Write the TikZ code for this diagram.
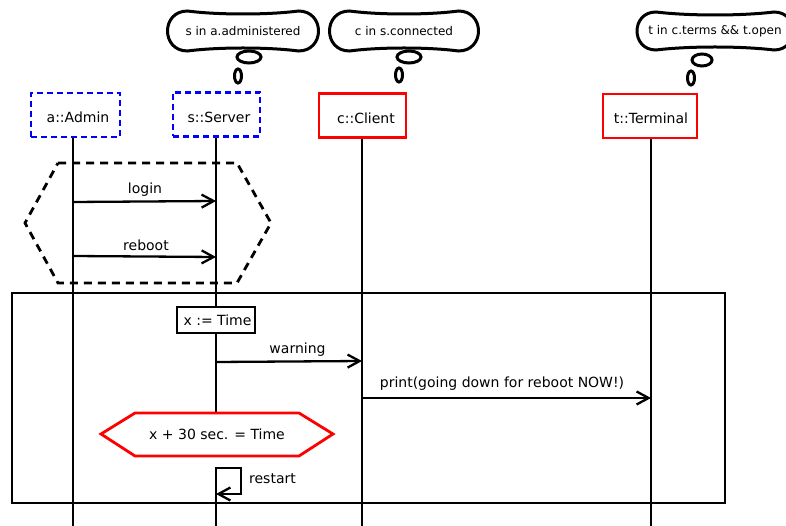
\documentclass[tikz,border=0pt]{standalone}
\usepackage{fontspec}
\setmainfont{DejaVu Sans}
\usetikzlibrary{arrows.meta,calc}

% thought cloud around a named node: #1 node, #2 half width, #3 half height
\newcommand\thoughtcloud[3]{%
  \draw[cloudline]
    ($(#1)+({-(#2)+(#3)},{-(#3)})$)
    .. controls ($(#1)+({-(#2)/3},{-(#3)+4})$) and ($(#1)+({(#2)/3},{-(#3)+4})$) .. ($(#1)+({(#2)-(#3)},{-(#3)})$)
    .. controls ($(#1)+({(#2)+(#3)/3},{-(#3)})$) and ($(#1)+({(#2)+(#3)/3},{(#3)})$) .. ($(#1)+({(#2)-(#3)},{(#3)})$)
    .. controls ($(#1)+({(#2)/3},{(#3)-4})$) and ($(#1)+({-(#2)/3},{(#3)-4})$) .. ($(#1)+({-(#2)+(#3)},{(#3)})$)
    .. controls ($(#1)+({-(#2)-(#3)/3},{(#3)})$) and ($(#1)+({-(#2)-(#3)/3},{-(#3)})$) .. cycle;}

\begin{document}
\begin{tikzpicture}[x=1pt,y=-1pt,
  every node/.style={font=\fontsize{14}{16}\selectfont, inner sep=0pt},
  thought/.style={font=\fontsize{12}{14}\selectfont},
  cloudline/.style={line width=3pt},
  head/.style={line width=2.8pt, minimum height=44pt, text height=16pt, text depth=0pt},
  headblue/.style={head, draw=blue, dash pattern=on 6pt off 4pt},
  headred/.style={head, draw=red},
  lifeline/.style={line width=2.8pt},
  msg/.style={line width=2.3pt, -{Straight Barb[length=12pt,width=13pt,line width=2.3pt]}},
  frame/.style={line width=2.8pt},
  guard/.style={line width=2.8pt, dash pattern=on 8pt off 6pt}]

\fill[white] (0,0) rectangle (786,526);
\useasboundingbox (0,0) rectangle (786,526);

% thought clouds with their bubbles
\node[thought] (thS) at (243,31) {s in a.administered};
\thoughtcloud{thS}{75.5}{20}
\draw[cloudline] (249,57) ellipse [x radius=12, y radius=6];
\draw[cloudline] (238,76) ellipse [x radius=3.5, y radius=7];

\node[thought] (thC) at (404,31) {c in s.connected};
\thoughtcloud{thC}{74.5}{20}
\draw[cloudline] (409,57) ellipse [x radius=12, y radius=6];
\draw[cloudline] (399,75) ellipse [x radius=3.5, y radius=7];

\node[thought] (thT) at (715,31) {t in c.terms \&\& t.open};
\thoughtcloud{thT}{78}{19}
\draw[cloudline] (702,60) ellipse [x radius=10, y radius=6];
\draw[cloudline] (691,78) ellipse [x radius=3.5, y radius=7];

% lifeline heads
\node[headblue, minimum width=89pt] (admin) at (75.5,115) {\hspace{5pt}a::Admin};
\node[headblue, minimum width=87pt] (server) at (216.5,114.5) {\hspace{5pt}s::Server};
\node[headred, minimum width=87pt] (client) at (362.5,115.5) {\hspace{7pt}c::Client};
\node[headred, minimum width=94pt] (terminal) at (650,116) {\hspace{2pt}t::Terminal};

% guarded region and combined fragment
\draw[guard] (58,163) -- (237,163) -- (271,223) -- (237,283) -- (58,283) -- (25,223) -- cycle;
\draw[frame] (12,293) rectangle (725,503);

% lifelines
\coordinate (adminEnd) at (73,526);
\coordinate (serverEnd) at (216,526);
\coordinate (clientEnd) at (362,526);
\coordinate (terminalEnd) at (651,526);
\draw[lifeline] (admin.south -| adminEnd) -- (adminEnd);
\draw[lifeline] (server.south -| serverEnd) -- (serverEnd |- 0,413);
\draw[lifeline] (serverEnd |- 0,467) -- (serverEnd);
\draw[lifeline] (client.south -| clientEnd) -- (clientEnd);
\draw[lifeline] (terminal.south -| terminalEnd) -- (terminalEnd);

% messages
\draw[msg] (adminEnd |- 0,202) -- (serverEnd |- 0,201);
\node (login) at (145,190) {login};
\draw[msg] (adminEnd |- 0,256) -- (serverEnd |- 0,257);
\node (reboot) at (146,245) {reboot};

\node[draw, line width=2.8pt, fill=white, minimum width=78pt, minimum height=26pt] (xset) at (216,320) {\hspace{3pt}x := Time};

\draw[msg] (serverEnd |- 0,362) -- (clientEnd |- 0,361);
\node (warning) at (297.5,350) {warning};
\draw[msg] (clientEnd |- 0,398) -- (terminalEnd |- 0,398);
\node (print) at (502,384) {print(going down for reboot NOW!)};

% time constraint
\draw[red, line width=2.8pt, fill=white] (101,434) -- (135,413) -- (299,413) -- (333,434) -- (299,456) -- (135,456) -- cycle;
\node (deadline) at (217,434) {x + 30 sec. = Time};

% self message
\draw[msg] (serverEnd |- 0,468) -| (241,494) -- (serverEnd |- 0,494);
\node (restart) at (272.5,479) {restart};
\end{tikzpicture}
\end{document}
